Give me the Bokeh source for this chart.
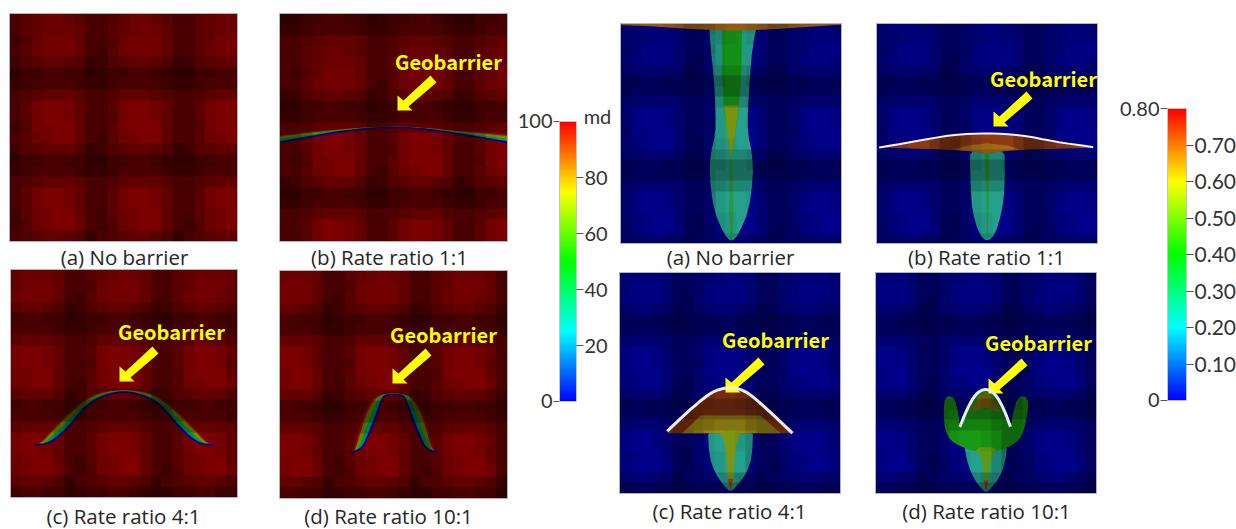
import numpy as np
from bokeh.plotting import figure
from bokeh.models import Range1d, ColorBar, LinearColorMapper, FixedTicker
from bokeh.embed import file_html
from bokeh.resources import INLINE
from bokeh.core.properties import value

W, H = 1236, 529

# permeability shading: digit 0 (dark cell) .. 9 (bright cell)
FIELD = [
    "356776533467765335677643", "356777633567876335677763", "246888633478886335688863",
    "357888632578886335788763", "245665412456654124566541", "022332201223321002233220",
    "123333211233332112333321", "345666533466654334566543", "358998633589986335899863",
    "358998633489986335899853", "248899633589996334899963", "357899632578996335789973",
    "245666412456654124566641", "022332200223321002233220", "123333211233332112333321",
    "345666533456664334566653", "358998633589986335899863", "358998633589986335899863",
    "257899632578996335789963", "247899732478996324789973", "345665413456654134566541",
    "022332201223321002233220", "123333211233332112333321", "345666533456654334566653",
]

# panel boxes: left, top, right, bottom, column shift, row shift of the field
PANELS = {
    "La": (9, 13, 237, 241, 0, 0), "Lb": (279, 13, 507, 241, 1, 3),
    "Lc": (10, 269, 237, 497, -2, -1), "Ld": (279, 270, 507, 498, -3, -1),
    "Ra": (620, 23, 841, 243, -1, 0), "Rb": (876, 23, 1097, 243, -1, 0),
    "Rc": (619, 272, 840, 493, -2, -1), "Rd": (875, 272, 1096, 493, -3, -1),
}
CAPTIONS = [("(a) No barrier", 124, 256), ("(b) Rate ratio 1:1", 389, 256),
            ("(c) Rate ratio 4:1", 123, 515), ("(d) Rate ratio 10:1", 388, 515),
            ("(a) No barrier", 730, 256), ("(b) Rate ratio 1:1", 986, 256),
            ("(c) Rate ratio 4:1", 729, 510), ("(d) Rate ratio 10:1", 986, 510)]
GEO_X = [448, 171, 443, 1043, 775, 1038]
GEO_Y = [61, 331, 334, 78, 339, 342]
ARROW_TIP_X = [397, 119, 392, 993, 725, 988]
ARROW_TIP_Y = [110, 381, 383, 126, 392, 393]
ARROW_DX = [0, 0, 6, 33, 39, 11, 15]
ARROW_DY = [0, -15, -10, -35, -28, -4, 0]

# geobarrier band in the permeability maps (inner edge, outer edge), 3x sampled
LB_IN = ([838, 900, 1000, 1100, 1178, 1260, 1350, 1440, 1520], [425, 414, 396, 384, 380, 384, 396, 411, 425])
LB_OUT = ([838, 900, 1000, 1100, 1178, 1260, 1350, 1440, 1520], [403, 396, 386, 380, 377, 380, 388, 395, 402])
LC_IN = ([105, 135, 165, 205, 250, 300, 370, 440, 490, 535, 575, 605, 640], [541, 539, 524, 487, 430, 395, 379, 395, 430, 487, 524, 539, 541])
LC_OUT = ([105, 118, 158, 205, 258, 310, 370, 430, 482, 535, 582, 622, 640], [541, 536, 490, 440, 398, 380, 375, 380, 398, 440, 490, 536, 541])
LD_IN = ([1050, 1085, 1100, 1122, 1145, 1160, 1200, 1215, 1238, 1260, 1275, 1310], [565, 552, 520, 470, 400, 390, 390, 400, 470, 520, 552, 565])
LD_OUT = ([1050, 1060, 1075, 1095, 1125, 1160, 1200, 1235, 1265, 1285, 1300, 1310], [565, 555, 500, 430, 395, 386, 386, 395, 430, 500, 555, 565])
BAND_T = [1.0, 0.8, 0.62, 0.46, 0.3, 0.16]
BAND_C = ["#8c3000", "#a07800", "#60a000", "#00a818", "#009878", "#0060c0"]

# plume outlines of the saturation maps, 3x sampled, in paint order: colour, x, y, rounding passes
TEAL = "#24a08c"
RA = [
    (TEAL, [296, 300, 310, 315, 315, 300, 297, 310, 340, 363, 385, 415, 428, 425, 412, 412, 418, 426, 440], [40, 110, 200, 300, 370, 430, 500, 600, 670, 695, 670, 600, 500, 430, 370, 300, 200, 110, 40], 1),
    ("#169a16", [335, 395, 392, 385, 362, 340, 335], [40, 40, 200, 290, 450, 290, 200], 0),
    ("#78960c", [340, 385, 372, 362, 352], [285, 285, 380, 450, 380], 0),
    ("#2a9a38", [358, 366, 368, 365, 360, 356], [450, 450, 600, 690, 690, 600], 0),
    ("#a86414", [32, 120, 220, 290, 362, 445, 520, 620, 692, 692, 32], [44, 47, 54, 58, 60, 58, 54, 47, 43, 40, 40], 0),
]
RB = [
    (TEAL, [1078, 1182, 1183, 1175, 1155, 1130, 1105, 1085, 1080], [400, 400, 530, 600, 670, 695, 670, 600, 530], 1),
    ("#2a9a38", [1122, 1138, 1134, 1131, 1128], [410, 410, 600, 690, 600], 0),
    ("#8c3a12", [806, 900, 1030, 1130, 1230, 1330, 1448, 1448, 1260, 1180, 1130, 1080, 1000], [411, 395, 372, 368, 373, 393, 410, 412, 417, 422, 428, 422, 417], 0),
    ("#a46a18", [1030, 1070, 1130, 1190, 1230, 1180, 1130, 1080], [417, 405, 398, 405, 417, 422, 428, 422], 0),
]
RC = [
    (TEAL, [292, 428, 425, 410, 380, 360, 340, 312, 296], [485, 485, 570, 620, 660, 680, 660, 620, 570], 1),
    ("#8c3412", [170, 230, 295, 330, 360, 395, 430, 490, 546], [503, 440, 385, 370, 366, 372, 395, 450, 503], 0),
    ("#a08c14", [215, 270, 450, 510], [503, 450, 450, 503], 0),
    ("#7c9614", [325, 395, 378, 372, 368, 360, 352, 348, 342], [495, 495, 530, 580, 650, 678, 650, 580, 530], 1),
    ("#a83c14", [352, 368, 360], [640, 640, 678], 0),
]
RD = [
    (TEAL, [1060, 1190, 1185, 1165, 1140, 1127, 1113, 1090, 1070], [530, 530, 590, 640, 670, 682, 670, 640, 590], 1),
    ("#189a14", [1000, 1010, 1032, 1044, 1048, 1070, 1095, 1125, 1155, 1180, 1200, 1208, 1220, 1242, 1255, 1248, 1235, 1215, 1190, 1160, 1130, 1090, 1060, 1030, 1010, 1000], [410, 390, 398, 445, 484, 430, 385, 368, 385, 430, 484, 445, 398, 390, 410, 460, 512, 532, 547, 557, 562, 557, 547, 532, 512, 470], 1),
    ("#8c7014", [1085, 1100, 1125, 1150, 1168, 1125], [440, 400, 380, 400, 440, 425], 0),
    ("#5c9a14", [1090, 1165, 1140, 1133, 1127, 1121, 1115], [545, 545, 580, 640, 680, 640, 580], 1),
    ("#a83c14", [1120, 1134, 1127], [645, 645, 680], 0),
]
# white barrier lines, 3x sampled
WB = ([806, 900, 1030, 1130, 1230, 1330, 1448], [411, 395, 372, 368, 373, 393, 410])
WC = ([170, 230, 295, 330, 360, 395, 430, 490, 546], [497, 440, 385, 370, 366, 372, 395, 450, 503])
WD = ([1048, 1070, 1095, 1125, 1155, 1180, 1200], [484, 430, 385, 368, 385, 430, 484])

# colour bars
PERM_TICKS = [20, 40, 60, 80]
PERM_LOW, PERM_HIGH = 0, 100
PORO_TICKS = [0.10, 0.20, 0.30, 0.40, 0.50, 0.60, 0.70]
PORO_LOW, PORO_HIGH = 0, 0.80
STOPS = [(0, 0, 255), (0, 255, 255), (0, 255, 0), (255, 255, 0), (255, 0, 0)]


def rainbow(n=256):
    xs = np.linspace(0, 4, n)
    rgb = [np.interp(xs, range(5), [s[i] for s in STOPS]).astype(int) for i in range(3)]
    return ["#%02x%02x%02x" % (r, g, b) for r, g, b in zip(*rgb)]


def Y(v):
    return H - np.asarray(v, dtype=float)


def chaikin(xs, ys, closed=True, rounds=2):
    pts = np.column_stack([xs, ys]).astype(float)
    for _ in range(rounds):
        nxt = np.roll(pts, -1, axis=0) if closed else pts[1:]
        cur = pts if closed else pts[:-1]
        q, r = 0.75 * cur + 0.25 * nxt, 0.25 * cur + 0.75 * nxt
        new = np.empty((2 * len(cur), 2))
        new[0::2], new[1::2] = q, r
        pts = new if closed else np.vstack([pts[0], new, pts[-1]])
    return pts[:, 0], pts[:, 1]


p = figure(width=W, height=H, x_range=Range1d(0, W), y_range=Range1d(0, H), toolbar_location=None,
           output_backend="svg", min_border=0, outline_line_color=None, background_fill_color="white")
p.xaxis.visible = False
p.yaxis.visible = False
p.grid.visible = False

field = np.array([[int(c) for c in row] for row in FIELD])


def panel(key, base):
    l, t, r, b, cs, rs = PANELS[key]
    p.quad(left=[l], right=[r], top=[Y(t)], bottom=[Y(b)], fill_color=base, line_color=None)


def shade(key, strength):
    l, t, r, b, cs, rs = PANELS[key]
    d = np.roll(np.roll(field, cs, axis=1), rs, axis=0)[:21, :21]
    brightness = (0x30 + d * (0x82 - 0x30) / 9.0) / 0x82
    alpha = ((1 - brightness) * 255 * strength).astype(np.uint32)
    img = np.kron((alpha << 24)[::-1], np.ones((6, 6), dtype=np.uint32))
    p.image_rgba(image=[img], x=[l], y=[Y(b)], dw=[r - l], dh=[b - t])
    p.quad(left=[l], right=[r], top=[Y(t)], bottom=[Y(b)], fill_color=None, line_color="#b4b4bc", line_width=1)


def band(inner, outer, ox, oy):
    xi, yi = np.array(inner[0]) / 3 + ox, np.array(inner[1]) / 3 + oy
    xo, yo = np.array(outer[0]) / 3 + ox, np.array(outer[1]) / 3 + oy
    xi, yi = chaikin(xi, yi, closed=False)
    xo, yo = chaikin(xo, yo, closed=False)
    for t, c in zip(BAND_T, BAND_C):
        xb, yb = xi + (xo - xi) * t, yi + (yo - yi) * t
        p.patch(np.r_[xi, xb[::-1]], Y(np.r_[yi, yb[::-1]]), fill_color=c, line_color=None,
                fill_alpha=0.55 if t == 1.0 else 0.95)
    p.line(xi, Y(yi), line_color="#00009a", line_width=1.6)


def plume(layers, ox, oy):
    for c, xs, ys, rounds in layers:
        sx, sy = chaikin(np.array(xs) / 3 + ox, np.array(ys) / 3 + oy, rounds=rounds)
        p.patch(sx, Y(sy), fill_color=c, line_color=None)


def whiteline(curve, ox, oy, color, width):
    sx, sy = chaikin(np.array(curve[0]) / 3 + ox, np.array(curve[1]) / 3 + oy, closed=False)
    p.line(sx, Y(sy), line_color=color, line_width=width)


for k in ("La", "Lb", "Lc", "Ld"):
    panel(k, "#7c0000")
band(LB_IN, LB_OUT, 0, 0)
band(LC_IN, LC_OUT, 0, 264)
band(LD_IN, LD_OUT, 0, 264)
for k in ("Ra", "Rb", "Rc", "Rd"):
    panel(k, "#000088")
plume(RA, 610, 10)
plume(RB, 610, 10)
plume(RC, 610, 265)
plume(RD, 610, 265)
for k in ("La", "Lb", "Lc", "Ld"):
    shade(k, 1.0)
for k in ("Ra", "Rb", "Rc", "Rd"):
    shade(k, 0.8)

whiteline(WB, 610, 10, "#f4f4f4", 2)

for tx, ty in zip(ARROW_TIP_X, ARROW_TIP_Y):
    p.patch(tx + np.array(ARROW_DX), Y(ty + np.array(ARROW_DY)), fill_color="#ffff00", line_color=None)

whiteline(WC, 610, 265, "#ececec", 3)
whiteline(WD, 610, 265, "#ececec", 3)

p.text(x=GEO_X, y=Y(GEO_Y), text=["Geobarrier"] * 6, text_color="#ffff00", text_font=value("Noto Sans CJK KR"),
       text_font_style="bold", text_font_size="20px", text_align="center", text_baseline="middle")
p.text(x=[c[1] for c in CAPTIONS], y=Y([c[2] for c in CAPTIONS]), text=[c[0] for c in CAPTIONS],
       text_color="#262626", text_font=value("Open Sans"), text_font_size="20.5px",
       text_align="center", text_baseline="middle")


def colorbar(low, high, ticks, fmt, left, top, bottom, width, size):
    mapper = LinearColorMapper(palette=rainbow(), low=low, high=high)
    cb = ColorBar(color_mapper=mapper, ticker=FixedTicker(ticks=ticks), width=width, height=bottom - top,
                  location=(left, H - bottom), padding=0, margin=0, major_tick_in=0, major_tick_out=7,
                  major_tick_line_color="#555555", major_tick_line_width=1, minor_tick_line_color=None,
                  bar_line_color="#c4c4c4", bar_line_width=1, label_standoff=1, border_line_color=None,
                  background_fill_color=None, major_label_text_font="Lato", major_label_text_font_size=size,
                  major_label_text_color="#333333", major_label_overrides={t: fmt % t for t in ticks})
    p.add_layout(cb, "center")


colorbar(PERM_LOW, PERM_HIGH, PERM_TICKS, "%d", 559, 121, 401, 17, "20px")
colorbar(PORO_LOW, PORO_HIGH, PORO_TICKS, "%.2f", 1167, 108, 400, 19, "21px")

p.segment(x0=[553, 553, 1160, 1160], y0=Y([121, 401, 108, 400]), x1=[559, 559, 1167, 1167], y1=Y([121, 401, 108, 400]),
          line_color="#555555", line_width=1)
p.text(x=[552, 552, 1159, 1159, 597], y=Y([120, 400, 108, 399, 115]), text=["100", "0", "0.80", "0", "md"],
       text_color="#333333", text_font=value("Lato"), text_font_size="20px",
       text_align=["right", "right", "right", "right", "center"], text_baseline="middle")

open("out.html", "w").write(file_html(p, INLINE))
